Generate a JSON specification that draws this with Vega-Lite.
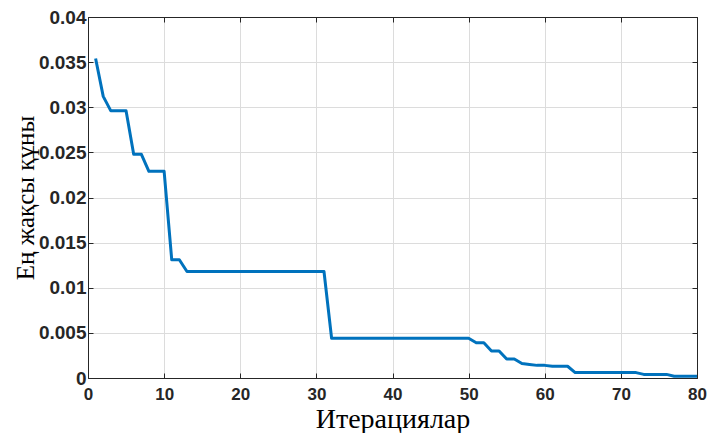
{
  "$schema": "https://vega.github.io/schema/vega-lite/v6.json",
  "width": 609,
  "height": 361,
  "autosize": {"type": "none"},
  "padding": {"left": 88, "top": 17, "right": 11, "bottom": 55},
  "background": "white",
  "config": {
    "view": {"stroke": "#262626", "strokeWidth": 1},
    "axis": {
      "labelFont": "Liberation Sans",
      "labelFontWeight": "bold",
      "labelFontSize": 17,
      "labelColor": "#262626",
      "labelFlush": false,
      "titleFont": "Liberation Serif",
      "titleFontWeight": "normal",
      "titleFontSize": 25,
      "titleColor": "#000000",
      "domainColor": "#262626",
      "tickColor": "#262626",
      "tickSize": -5,
      "gridColor": "#dcdcdc",
      "gridWidth": 1
    }
  },
  "data": {
    "values": [
      {"it": 1, "v": 0.0354},
      {"it": 2, "v": 0.0312},
      {"it": 3, "v": 0.0296},
      {"it": 4, "v": 0.0296},
      {"it": 5, "v": 0.0296},
      {"it": 6, "v": 0.0248},
      {"it": 7, "v": 0.0248},
      {"it": 8, "v": 0.0229},
      {"it": 9, "v": 0.0229},
      {"it": 10, "v": 0.0229},
      {"it": 11, "v": 0.0131},
      {"it": 12, "v": 0.0131},
      {"it": 13, "v": 0.0118},
      {"it": 20, "v": 0.0118},
      {"it": 31, "v": 0.0118},
      {"it": 32, "v": 0.0044},
      {"it": 40, "v": 0.0044},
      {"it": 50, "v": 0.0044},
      {"it": 51, "v": 0.0039},
      {"it": 52, "v": 0.0039},
      {"it": 53, "v": 0.0030},
      {"it": 54, "v": 0.0030},
      {"it": 55, "v": 0.0021},
      {"it": 56, "v": 0.0021},
      {"it": 57, "v": 0.0016},
      {"it": 58, "v": 0.0015},
      {"it": 59, "v": 0.0014},
      {"it": 60, "v": 0.0014},
      {"it": 61, "v": 0.0013},
      {"it": 62, "v": 0.0013},
      {"it": 63, "v": 0.0013},
      {"it": 64, "v": 0.0006},
      {"it": 68, "v": 0.0006},
      {"it": 72, "v": 0.0006},
      {"it": 73, "v": 0.0004},
      {"it": 76, "v": 0.0004},
      {"it": 77, "v": 0.0002},
      {"it": 80, "v": 0.0002}
    ]
  },
  "layer": [
    {
      "mark": {"type": "line", "color": "#0072BD", "strokeWidth": 3, "strokeJoin": "round"},
      "encoding": {
        "x": {
          "field": "it", "type": "quantitative",
          "scale": {"domain": [0, 80], "nice": false},
          "axis": {"title": "Итерациялар", "titleFontSize": 28, "values": [0,10,20,30,40,50,60,70,80], "labelPadding": 13, "titlePadding": 3}
        },
        "y": {
          "field": "v", "type": "quantitative",
          "scale": {"domain": [0, 0.04], "nice": false},
          "axis": {"title": "Ең жақсы құны", "labelFontSize": 19, "values": [0,0.005,0.01,0.015,0.02,0.025,0.03,0.035,0.04], "format": "~g", "labelPadding": 7, "titlePadding": 0}
        }
      }
    },
    {
      "mark": {"type": "line", "opacity": 0},
      "encoding": {
        "x": {
          "field": "it", "type": "quantitative",
          "axis": {"orient": "top", "title": null, "labels": false, "grid": false, "values": [0,10,20,30,40,50,60,70,80]}
        },
        "y": {
          "field": "v", "type": "quantitative",
          "axis": {"orient": "right", "title": null, "labels": false, "grid": false, "values": [0,0.005,0.01,0.015,0.02,0.025,0.03,0.035,0.04]}
        }
      }
    }
  ],
  "resolve": {"axis": {"x": "independent", "y": "independent"}}
}
